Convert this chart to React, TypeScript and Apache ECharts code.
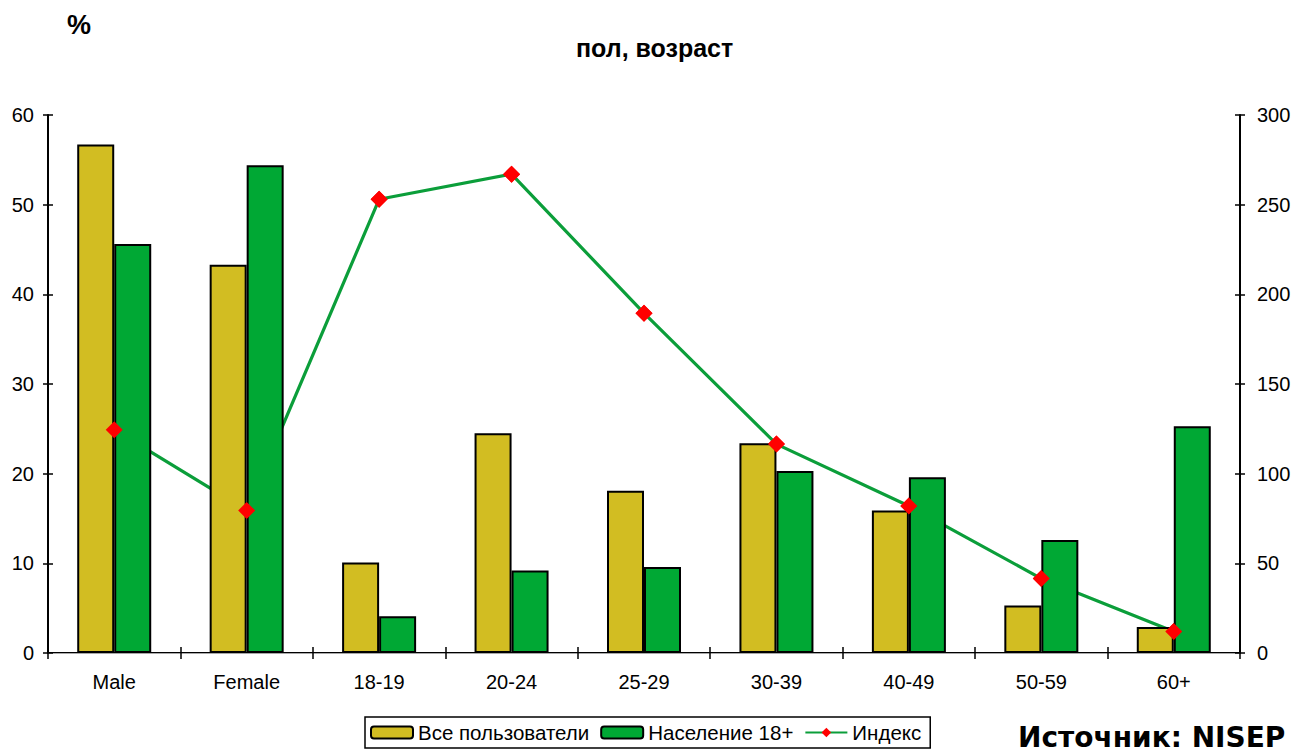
import React, { useEffect, useRef } from "react";
import * as echarts from "echarts";

const categories = ["Male", "Female", "18-19", "20-24", "25-29", "30-39", "40-49", "50-59", "60+"];
const allUsers = [56.7, 43.3, 10.1, 24.5, 18.1, 23.4, 15.9, 5.3, 2.9];
const population18 = [45.6, 54.4, 4.1, 9.2, 9.6, 20.3, 19.6, 12.6, 25.3];
const indexValues = [124.5, 79.5, 253, 267, 189.5, 116.5, 82, 41.5, 12];
const leftTicks = { min: 0, max: 60, interval: 10 };
const rightTicks = { min: 0, max: 300, interval: 50 };

const YELLOW = "#D2BD22";
const GREEN = "#00A834";
const LINE_GREEN = "#0B9E3A";
const FONT = "Liberation Sans, Arial, sans-serif";

export default function App() {
  const ref = useRef<HTMLDivElement>(null);
  useEffect(() => {
    if (!ref.current) return;
    const chart = echarts.init(ref.current, null, { renderer: "svg" });
    const labelStyle = { color: "#000", fontSize: 20, fontFamily: FONT };
    chart.setOption({
      animation: false,
      backgroundColor: "#fff",
      textStyle: { fontFamily: FONT },
      title: {
        text: "пол, возраст",
        left: 571,
        top: 30,
        textStyle: { fontSize: 25, fontWeight: "bold", color: "#000", fontFamily: FONT },
      },
      graphic: [
        {
          type: "text",
          left: 67,
          top: 11,
          style: { text: "%", fontSize: 27, fontWeight: "bold", fill: "#000", fontFamily: FONT },
        },
        {
          type: "text",
          left: 1018,
          top: 723,
          style: {
            text: "Источник: NISEP",
            fontSize: 28,
            fontWeight: "bold",
            fill: "#000",
            fontFamily: "DejaVu Sans, Verdana, sans-serif",
          },
        },
      ],
      legend: {
        left: 365,
        top: 717,
        orient: "horizontal",
        borderColor: "#000",
        borderWidth: 1.5,
        padding: [5, 9, 5, 5],
        itemGap: 11,
        itemWidth: 42,
        itemHeight: 12,
        textStyle: { color: "#000", fontSize: 20.5, fontFamily: FONT },
        data: ["Все пользователи", "Население 18+", "Индекс"],
      },
      grid: { left: 48, right: 55, top: 115, bottom: 101 },
      xAxis: [
        {
          type: "category",
          data: categories,
          position: "bottom",
          axisLine: { lineStyle: { color: "#000", width: 2 } },
          axisTick: { show: true, length: 6, lineStyle: { color: "#000", width: 1.5 } },
          axisLabel: { ...labelStyle, margin: 19 },
        },
        {
          type: "category",
          data: categories,
          position: "bottom",
          axisLine: { show: false },
          axisTick: { show: true, inside: true, length: 6, lineStyle: { color: "#000", width: 1.5 } },
          axisLabel: { show: false },
        },
        {
          type: "category",
          data: categories,
          position: "top",
          axisLine: { show: true, lineStyle: { color: "#a8a8a8", width: 1 } },
          axisTick: { show: false },
          axisLabel: { show: false },
        },
      ],
      yAxis: [
        {
          type: "value",
          position: "left",
          ...leftTicks,
          axisLine: { show: true, lineStyle: { color: "#000", width: 2 } },
          axisTick: { show: true, length: 5, lineStyle: { color: "#000", width: 1.5 } },
          axisLabel: { ...labelStyle, margin: 14 },
          splitLine: { show: false },
        },
        {
          type: "value",
          position: "right",
          ...rightTicks,
          axisLine: { show: true, lineStyle: { color: "#000", width: 2 } },
          axisTick: { show: true, length: 5, lineStyle: { color: "#000", width: 1.5 } },
          axisLabel: { ...labelStyle, margin: 17 },
          splitLine: { show: false },
        },
        {
          type: "value",
          position: "left",
          ...leftTicks,
          axisLine: { show: false },
          axisTick: { show: true, inside: true, length: 5, lineStyle: { color: "#000", width: 1.5 } },
          axisLabel: { show: false },
          splitLine: { show: false },
        },
        {
          type: "value",
          position: "right",
          ...rightTicks,
          axisLine: { show: false },
          axisTick: { show: true, inside: true, length: 5, lineStyle: { color: "#000", width: 1.5 } },
          axisLabel: { show: false },
          splitLine: { show: false },
        },
      ],
      series: [
        {
          name: "Все пользователи",
          type: "bar",
          data: allUsers,
          barWidth: 37,
          barGap: "0%",
          z: 2,
          itemStyle: { color: YELLOW, borderColor: "#000", borderWidth: 2 },
        },
        {
          name: "Население 18+",
          type: "bar",
          data: population18,
          barWidth: 37,
          barGap: "0%",
          z: 2,
          itemStyle: { color: GREEN, borderColor: "#000", borderWidth: 2 },
        },
        {
          name: "Индекс",
          type: "line",
          yAxisIndex: 1,
          data: indexValues,
          z: 1,
          symbol: "diamond",
          symbolSize: 17,
          lineStyle: { color: LINE_GREEN, width: 3.2 },
          itemStyle: { color: "#FF0000" },
        },
        {
          name: "Индекс",
          type: "line",
          yAxisIndex: 1,
          data: indexValues,
          z: 3,
          symbol: "diamond",
          symbolSize: 17,
          lineStyle: { width: 0, opacity: 0 },
          itemStyle: { color: "#FF0000" },
        },
      ],
    });
    return () => chart.dispose();
  }, []);
  return (
    <div
      ref={ref}
      style={{ position: "absolute", left: 0, top: 0, width: 1295, height: 754 }}
    />
  );
}
